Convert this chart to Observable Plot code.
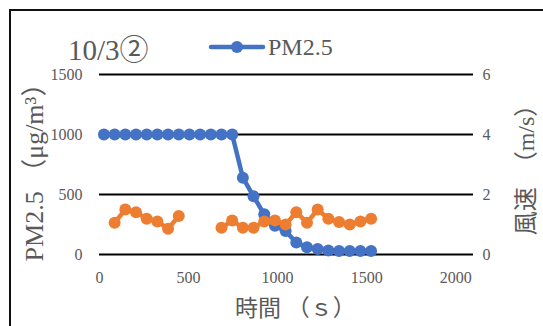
<!DOCTYPE html>
<html><head><meta charset="utf-8">
<script src="https://cdn.jsdelivr.net/npm/d3@7"></script>
<script src="https://cdn.jsdelivr.net/npm/@observablehq/plot@0.6"></script>
<style>
body{margin:0;background:#fff;}
#chart svg{display:block;}
</style>
</head><body><div id="chart"></div>
<script>
// ---- data ----
const pmTime = [25,85,145,205,265,325,385,445,505,565,625,685,745,805,865,925,985,1045,1105,1165,1225,1285,1345,1405,1465,1525];
const pmValues = [1000,1000,1000,1000,1000,1000,1000,1000,1000,1000,1000,1000,1000,640,485,335,240,195,100,60,45,33,30,30,30,30];
const windTime = [85,145,205,265,325,385,445,505,565,625,685,745,805,865,925,985,1045,1105,1165,1225,1285,1345,1405,1465,1525];
const windValues = [1.06,1.5,1.41,1.19,1.1,0.86,1.28,null,null,null,0.89,1.13,0.89,0.89,1.1,1.13,1.0,1.41,1.06,1.5,1.19,1.08,1.0,1.1,1.19];
const leftTicks = [0,500,1000,1500];
const rightTicks = [0,2,4,6];
const xTicks = [0,500,1000,1500,2000];
const titleText = "10/3②";
const seriesName = "PM2.5";
const xTitle = "時間 （ｓ）";
const yLeftTitle = "PM2.5 （μg/m³）";
const yRightTitle = "風速　（m/s）";

const pm = pmTime.map((t,i)=>({t, v: pmValues[i]}));
const ratio = 1500/6; // secondary axis 0..6 maps onto primary 0..1500
const wind = windTime.map((t,i)=>({t, v: windValues[i]}));

const BLUE = "#4472C4", ORANGE = "#ED7D31", GRAY = "#595959";
const FONT = "'Liberation Serif', 'Noto Sans CJK JP', serif";

const axisOpts = {tickSize: 0, fontSize: 16, label: null, fill: GRAY, tickFormat: d => String(d)};

const chart = Plot.plot({
  width: 543, height: 326,
  marginLeft: 99, marginRight: 70, marginTop: 74, marginBottom: 72,
  style: {color: GRAY, background: "#fff", overflow: "visible"},
  x: {domain: [0, 2100]},
  y: {domain: [0, 1500]},
  marks: [
    Plot.ruleY(leftTicks, {stroke: "#000", strokeWidth: 2}),
    Plot.axisY(leftTicks, {...axisOpts, anchor: "left", tickPadding: 17}),
    Plot.axisY(rightTicks.map(v => v*ratio), {...axisOpts, anchor: "right", tickPadding: 9, tickFormat: d => String(d/ratio)}),
    Plot.axisX(xTicks, {...axisOpts, anchor: "bottom", tickPadding: 17}),
    Plot.line(pm, {x: "t", y: "v", stroke: BLUE, strokeWidth: 4.5}),
    Plot.dot(pm, {x: "t", y: "v", r: 6, fill: BLUE, stroke: "none"}),
    Plot.line(wind, {x: "t", y: d => d.v == null ? null : d.v*ratio, stroke: ORANGE, strokeWidth: 4.5, defined: d => d.v != null}),
    Plot.dot(wind.filter(d => d.v != null), {x: "t", y: d => d.v*ratio, r: 6, fill: ORANGE, stroke: "none"})
  ]
});
document.getElementById("chart").appendChild(chart);

const svg = d3.select(chart);
// chart border
svg.insert("rect", ":first-child").attr("x", 10).attr("y", 10).attr("width", 700).attr("height", 500)
  .attr("fill", "none").attr("stroke", "#111").attr("stroke-width", 2);
// title
svg.append("text").attr("x", 68).attr("y", 60).attr("font-size", 29).attr("fill", GRAY)
  .attr("text-anchor", "start").text(titleText);
// legend
const lg = svg.append("g");
lg.append("line").attr("x1", 211).attr("x2", 263).attr("y1", 47).attr("y2", 47)
  .attr("stroke", BLUE).attr("stroke-width", 4.5).attr("stroke-linecap", "round");
lg.append("circle").attr("cx", 237).attr("cy", 47).attr("r", 6).attr("fill", BLUE);
lg.append("text").attr("x", 268).attr("y", 55).attr("font-size", 24).attr("fill", GRAY)
  .attr("text-anchor", "start").text(seriesName);
// axis titles
svg.append("text").attr("transform", "translate(235,316)").attr("text-anchor", "start")
  .attr("font-size", 23).attr("fill", GRAY).text(xTitle);
svg.append("text").attr("transform", "translate(43,166) rotate(-90)").attr("text-anchor", "middle")
  .attr("font-size", 26).attr("fill", GRAY).text(yLeftTitle);
svg.append("text").attr("transform", "translate(534,164) rotate(-90)").attr("text-anchor", "middle")
  .attr("font-size", 24).attr("fill", GRAY).text(yRightTitle);
// serif face on every text
svg.style("font-family", FONT);
svg.selectAll("g").style("font-family", FONT);
svg.selectAll("text").style("font-family", FONT);
</script>
</body></html>
